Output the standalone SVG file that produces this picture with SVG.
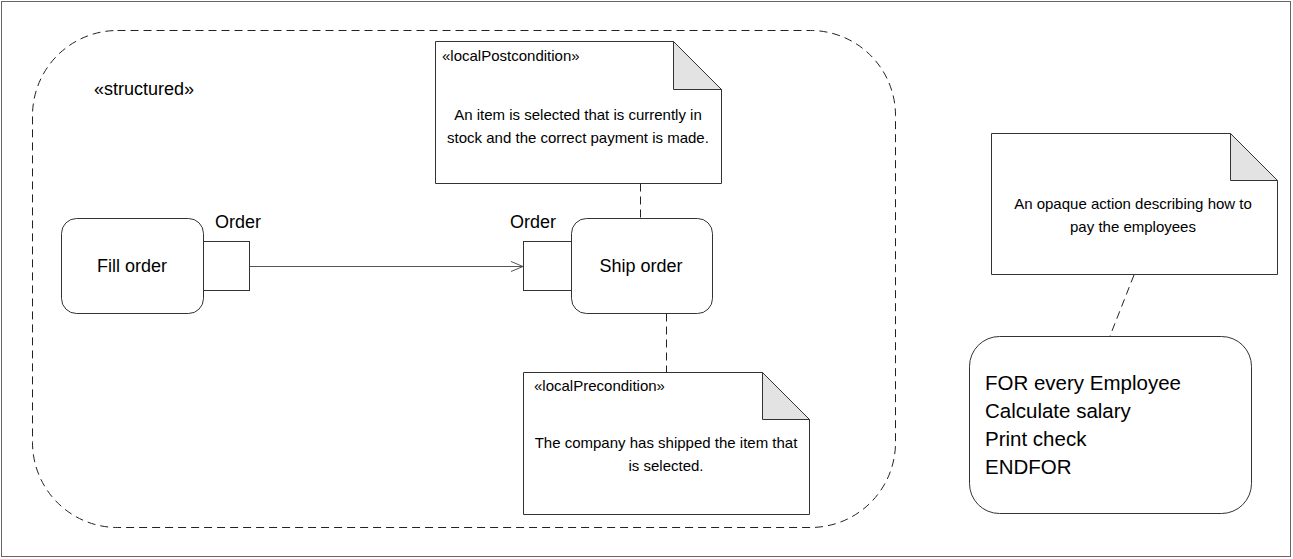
<svg xmlns="http://www.w3.org/2000/svg" width="1293" height="559" viewBox="0 0 1293 559">
<style>
text{font-family:"Liberation Sans",Arial,sans-serif;fill:#000}
.s13{font-size:15px}
.s16{font-size:18px}
.s20{font-size:20.5px}
.box{fill:#fff;stroke:#333;stroke-width:1}
.fold{fill:#e3e3e3;stroke:#333;stroke-width:1}
.dash{fill:none;stroke:#222;stroke-width:1;stroke-dasharray:8,5}
</style>
<defs>
<marker id="open" viewBox="0 0 12 12" refX="12" refY="6" markerWidth="12" markerHeight="12" markerUnits="userSpaceOnUse" orient="auto">
<path d="M0,1 L12,6 L0,11" fill="none" stroke="#555" stroke-width="1"/>
</marker>
</defs>
<rect x="1.5" y="1.5" width="1289" height="555" fill="#fff" stroke="#666" stroke-width="1"/>
<g id="structured">
<rect x="32.5" y="30.5" width="863" height="497" rx="85" ry="85" class="dash" stroke="#444"/>
<text x="94" y="95" class="s16">«structured»</text>
</g>
<g id="fill-order">
<rect x="61.5" y="218.5" width="142" height="95" rx="15" ry="15" class="box"/>
<text x="132" y="272" class="s16" text-anchor="middle">Fill order</text>
</g>
<g id="fill-order-pin">
<rect x="203.5" y="241.5" width="46" height="49" class="box"/>
<text x="238" y="228" class="s16" text-anchor="middle">Order</text>
</g>
<g id="ship-order">
<rect x="571.5" y="218.5" width="141" height="95" rx="15" ry="15" class="box"/>
<text x="641" y="272" class="s16" text-anchor="middle">Ship order</text>
</g>
<g id="ship-order-pin">
<rect x="523.5" y="241.5" width="48" height="49" class="box"/>
<text x="533" y="228" class="s16" text-anchor="middle">Order</text>
</g>
<g id="postcondition">
<path d="M435.5,41.5 H673.5 L721.5,89.5 V183.5 H435.5 Z" class="box"/>
<path d="M673.5,41.5 V89.5 H721.5 Z" class="fold"/>
<text x="442" y="61" class="s13">«localPostcondition»</text>
<text x="578" y="120" class="s13" text-anchor="middle">An item is selected that is currently in</text>
<text x="578" y="143" class="s13" text-anchor="middle">stock and the correct payment is made.</text>
</g>
<g id="precondition">
<path d="M523.5,372.5 H762.5 L809.5,419.5 V514.5 H523.5 Z" class="box"/>
<path d="M762.5,372.5 V419.5 H809.5 Z" class="fold"/>
<text x="534" y="391" class="s13">«localPrecondition»</text>
<text x="666" y="448" class="s13" text-anchor="middle">The company has shipped the item that</text>
<text x="666" y="471" class="s13" text-anchor="middle">is selected.</text>
</g>
<g id="opaque-note">
<path d="M991.5,133.5 H1230.5 L1277.5,180.5 V274.5 H991.5 Z" class="box"/>
<path d="M1230.5,133.5 V180.5 H1277.5 Z" class="fold"/>
<text x="1133" y="209" class="s13" text-anchor="middle">An opaque action describing how to</text>
<text x="1133" y="232" class="s13" text-anchor="middle">pay the employees</text>
</g>
<g id="opaque-action">
<rect x="969.5" y="336.5" width="282" height="177" rx="30" ry="30" class="box"/>
<text x="985" y="390" class="s20">FOR every Employee</text>
<text x="985" y="418" class="s20">Calculate salary</text>
<text x="985" y="446" class="s20">Print check</text>
<text x="985" y="474" class="s20">ENDFOR</text>
</g>
<g id="connectors">
<line x1="250" y1="266.5" x2="523" y2="266.5" stroke="#555" stroke-width="1" marker-end="url(#open)"/>
<line x1="640.5" y1="183.5" x2="640.5" y2="218.5" class="dash"/>
<line x1="666.5" y1="313.5" x2="666.5" y2="372.5" class="dash"/>
<line x1="1134" y1="275" x2="1110" y2="336" class="dash"/>
</g>
</svg>
